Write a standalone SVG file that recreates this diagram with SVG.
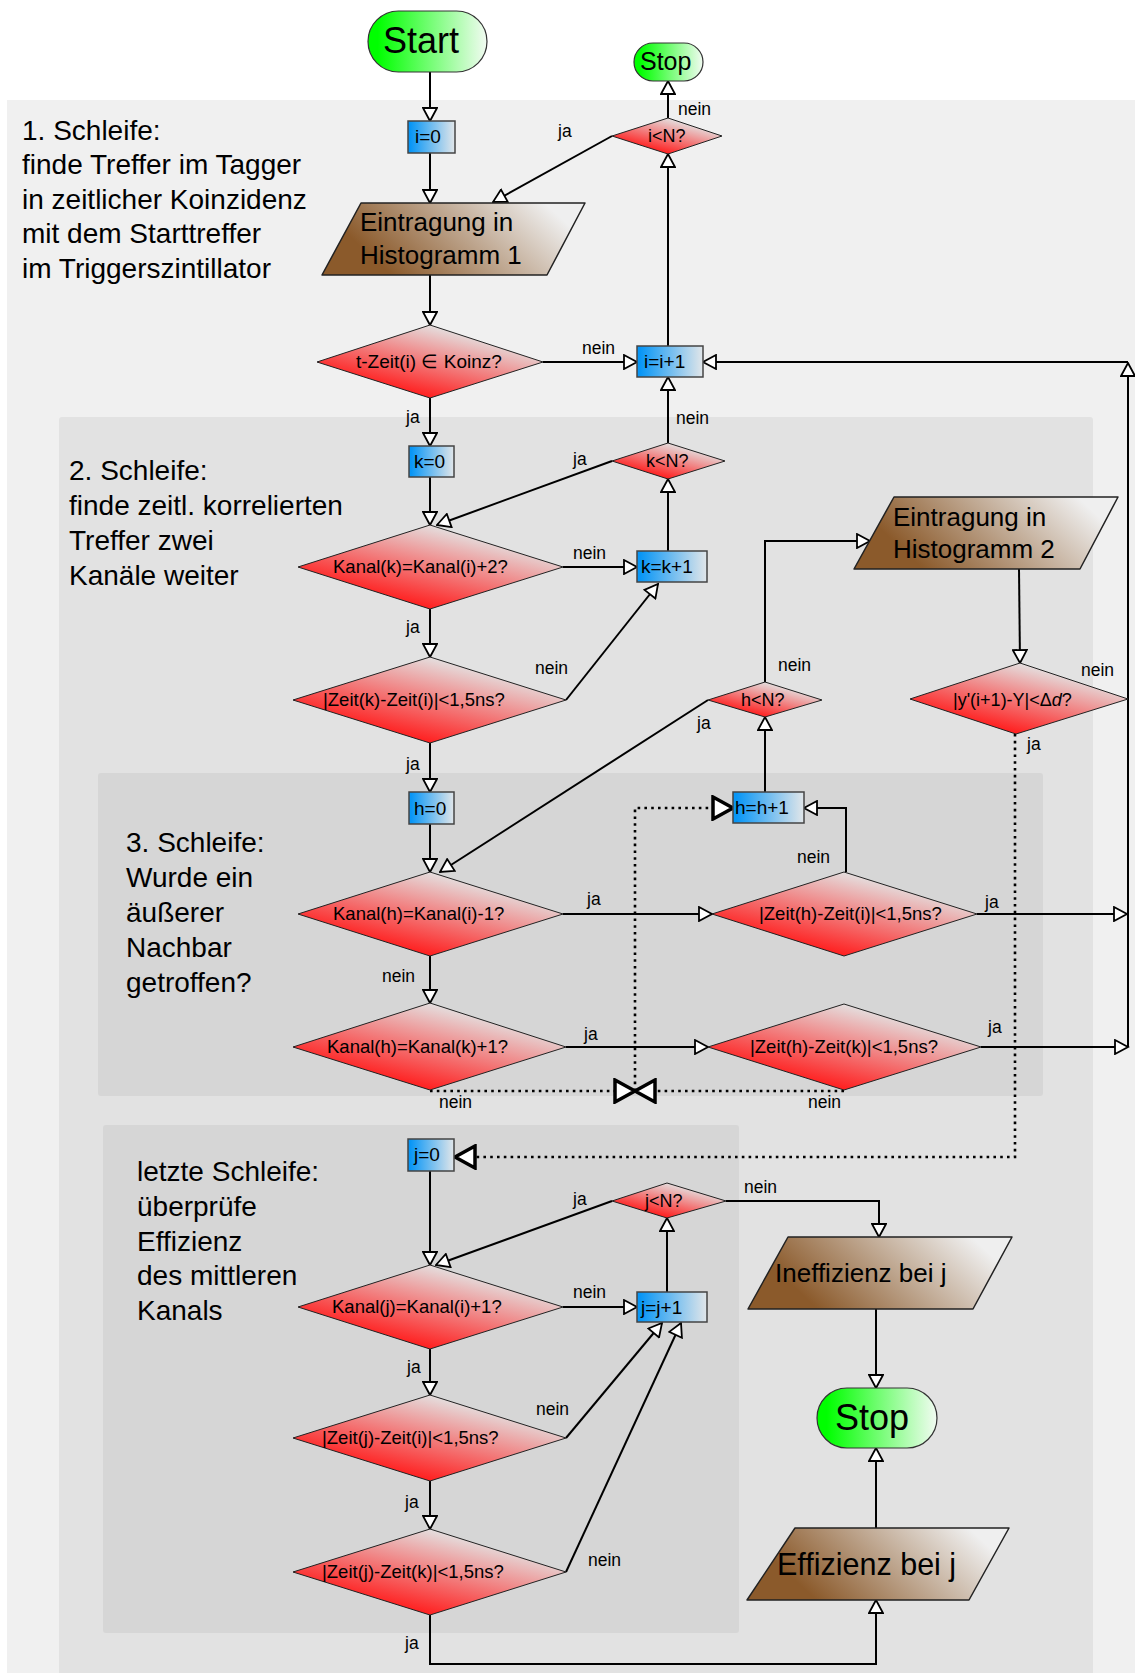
<svg xmlns="http://www.w3.org/2000/svg" width="1135" height="1673" viewBox="0 0 1135 1673">
<defs>
<linearGradient id="gG" x1="0" y1="0" x2="1" y2="0"><stop offset="0.08" stop-color="#00ff00"/><stop offset="1" stop-color="#f2fbf2"/></linearGradient>
<linearGradient id="gB" x1="0" y1="0" x2="1" y2="0"><stop offset="0.05" stop-color="#0896f6"/><stop offset="1" stop-color="#e2e6e9"/></linearGradient>
<linearGradient id="gR" x1="0.2" y1="0.9" x2="0.8" y2="0.1"><stop offset="0.1" stop-color="#ff1f1f"/><stop offset="0.9" stop-color="#e4dede"/></linearGradient>
<linearGradient id="gM" x1="0.1" y1="0.6" x2="0.95" y2="0.35"><stop offset="0.05" stop-color="#8b5a2b"/><stop offset="1" stop-color="#efefef"/></linearGradient>
<marker id="ar" viewBox="0 0 16 16" refX="14.5" refY="8" markerWidth="16" markerHeight="16" markerUnits="userSpaceOnUse" orient="auto"><path d="M1.5,1 L14.5,8 L1.5,15 Z" fill="#fff" stroke="#000" stroke-width="1.8"/></marker>
<marker id="big" viewBox="0 0 26 26" refX="22" refY="13" markerWidth="26" markerHeight="26" markerUnits="userSpaceOnUse" orient="auto"><path d="M2,2 L22,13 L2,24 Z" fill="#fff" stroke="#000" stroke-width="3.5"/></marker>
</defs>
<style>
text{font-family:"Liberation Sans",Arial,sans-serif;fill:#000}
.term{fill:url(#gG);stroke:#333;stroke-width:1.2}
.box{fill:url(#gB);stroke:#444;stroke-width:1.5}
.dia{fill:url(#gR);stroke:#222;stroke-width:1}
.io{fill:url(#gM);stroke:#222;stroke-width:1.5;stroke-linejoin:round}
.bt{font-size:19px}
.dt{font-size:18.5px}
.st{font-size:18px}
.io-t{font-size:26px}
.lab{font-size:17.5px}
.sec{font-size:28px}
.c{fill:none;stroke:#000;stroke-width:2;marker-end:url(#ar)}
.d{fill:none;stroke:#000;stroke-width:2.6;stroke-dasharray:2.6 4.2;marker-end:url(#big)}
</style>
<rect width="1135" height="1673" fill="#fff"/>
<g id="panels">
<rect x="7" y="100" width="1140" height="1600" fill="#f0f0f0"/>
<rect x="59" y="417" width="1034" height="1300" rx="3" fill="#e2e2e2"/>
<rect x="98" y="773" width="945" height="323" rx="3" fill="#d6d6d6"/>
<rect x="103" y="1125" width="636" height="508" rx="3" fill="#d6d6d6"/>
</g>
<g id="sections">
<text class="sec" x="22" y="139.5">1. Schleife:</text>
<text class="sec" x="22" y="174">finde Treffer im Tagger</text>
<text class="sec" x="22" y="208.5">in zeitlicher Koinzidenz</text>
<text class="sec" x="22" y="243">mit dem Starttreffer</text>
<text class="sec" x="22" y="277.5">im Triggerszintillator</text>
<text class="sec" x="69" y="480">2. Schleife:</text>
<text class="sec" x="69" y="515">finde zeitl. korrelierten</text>
<text class="sec" x="69" y="550">Treffer zwei</text>
<text class="sec" x="69" y="585">Kanäle weiter</text>
<text class="sec" x="126" y="852">3. Schleife:</text>
<text class="sec" x="126" y="887">Wurde ein</text>
<text class="sec" x="126" y="922">äußerer</text>
<text class="sec" x="126" y="957">Nachbar</text>
<text class="sec" x="126" y="992">getroffen?</text>
<text class="sec" x="137" y="1181">letzte Schleife:</text>
<text class="sec" x="137" y="1216">überprüfe</text>
<text class="sec" x="137" y="1250.5">Effizienz</text>
<text class="sec" x="137" y="1285">des mittleren</text>
<text class="sec" x="137" y="1320">Kanals</text>
</g>
<g id="connectors">
<path class="c" d="M430,72 V121"/>
<path class="c" d="M430,153 V203"/>
<path class="c" d="M430,275 V325"/>
<path class="c" d="M543,362 H637"/>
<path class="c" d="M668,346 V154"/>
<path class="c" d="M668,118 V81"/>
<path class="c" d="M612,136 L493,202"/>
<path class="c" d="M430,398 V446"/>
<path class="c" d="M430,477 V525"/>
<path class="c" d="M612,461 L437,525"/>
<path class="c" d="M668,443 V377"/>
<path class="c" d="M563,567 H637"/>
<path class="c" d="M668,551 V479"/>
<path class="c" d="M430,609 V657"/>
<path class="c" d="M566,700 L658,584"/>
<path class="c" d="M430,743 V792"/>
<path class="c" d="M430,824 V872"/>
<path class="c" d="M708,700 L440,872"/>
<path class="c" d="M765,792 V717"/>
<path class="c" d="M765,682 V541 H870"/>
<path class="c" d="M1019,569 L1020,663"/>
<path class="c" d="M1128,1047 V363"/>
<path class="c" d="M1128,362 H703"/>
<path class="c" d="M563,914 H712"/>
<path class="c" d="M977,914 H1127"/>
<path class="c" d="M846,872 V808 H804"/>
<path class="c" d="M430,956 V1003"/>
<path class="c" d="M566,1047 H708"/>
<path class="c" d="M981,1047 H1128"/>
<path class="d" d="M430,1091 H635"/>
<path class="d" d="M844,1091 H635"/>
<path class="d" d="M635,1091 V808 H733"/>
<path class="d" d="M1015,734 V1157 H455"/>
<path class="c" d="M430,1171 V1265"/>
<path class="c" d="M612,1201 L436,1265"/>
<path class="c" d="M563,1307 H637"/>
<path class="c" d="M667,1292 V1218"/>
<path class="c" d="M726,1201 H879 V1237"/>
<path class="c" d="M876,1309 V1388"/>
<path class="c" d="M430,1349 V1395"/>
<path class="c" d="M566,1438 L662,1323"/>
<path class="c" d="M430,1481 V1529"/>
<path class="c" d="M566,1572 L681,1323"/>
<path class="c" d="M430,1615 V1664 H876 V1600"/>
<path class="c" d="M876,1528 V1448"/>
</g>
<g id="labels">
<text class="lab" x="678" y="115">nein</text>
<text class="lab" x="558" y="137">ja</text>
<text class="lab" x="582" y="354">nein</text>
<text class="lab" x="406" y="423">ja</text>
<text class="lab" x="676" y="424">nein</text>
<text class="lab" x="573" y="465">ja</text>
<text class="lab" x="573" y="559">nein</text>
<text class="lab" x="406" y="633">ja</text>
<text class="lab" x="535" y="674">nein</text>
<text class="lab" x="406" y="770">ja</text>
<text class="lab" x="778" y="671">nein</text>
<text class="lab" x="697" y="729">ja</text>
<text class="lab" x="1081" y="676">nein</text>
<text class="lab" x="1027" y="750">ja</text>
<text class="lab" x="587" y="905">ja</text>
<text class="lab" x="797" y="863">nein</text>
<text class="lab" x="985" y="908">ja</text>
<text class="lab" x="382" y="982">nein</text>
<text class="lab" x="584" y="1040">ja</text>
<text class="lab" x="988" y="1033">ja</text>
<text class="lab" x="439" y="1108">nein</text>
<text class="lab" x="808" y="1108">nein</text>
<text class="lab" x="573" y="1205">ja</text>
<text class="lab" x="744" y="1193">nein</text>
<text class="lab" x="573" y="1298">nein</text>
<text class="lab" x="407" y="1373">ja</text>
<text class="lab" x="536" y="1415">nein</text>
<text class="lab" x="405" y="1508">ja</text>
<text class="lab" x="588" y="1566">nein</text>
<text class="lab" x="405" y="1649">ja</text>
</g>
<g id="start"><rect class="term" x="368" y="11" width="119" height="61" rx="30.5"/><text x="383" y="53" font-size="36">Start</text></g>
<g id="stop1"><rect class="term" x="634" y="43" width="69" height="38" rx="19"/><text x="640" y="70" font-size="25">Stop</text></g>
<g id="i0"><rect class="box" x="408" y="121" width="47" height="32"/><text class="bt" x="415" y="143">i=0</text></g>
<g id="hist1"><polygon class="io" points="361,203 585,203 547,275 322,275"/><text class="io-t" x="360" y="231">Eintragung in</text><text class="io-t" x="360" y="264">Histogramm 1</text></g>
<g id="iN"><polygon class="dia" points="612,136 668,118 722,136 668,154"/><text class="st" x="648" y="142">i&lt;N?</text></g>
<g id="tzeit"><polygon class="dia" points="317,362 430,325 543,362 430,398"/><text x="356" y="368" font-size="19">t-Zeit(i) ∈ Koinz?</text></g>
<g id="ii1"><rect class="box" x="637" y="346" width="66" height="31"/><text class="bt" x="644" y="368">i=i+1</text></g>
<g id="k0"><rect class="box" x="409" y="446" width="45" height="31"/><text class="bt" x="414" y="468">k=0</text></g>
<g id="kN"><polygon class="dia" points="612,461 668,443 725,461 668,479"/><text class="st" x="646" y="467">k&lt;N?</text></g>
<g id="kanalk"><polygon class="dia" points="298,567 430,525 563,567 430,609"/><text class="dt" x="333" y="573">Kanal(k)=Kanal(i)+2?</text></g>
<g id="kk1"><rect class="box" x="637" y="551" width="70" height="31"/><text class="bt" x="641" y="573">k=k+1</text></g>
<g id="zeitki"><polygon class="dia" points="293,700 430,657 566,700 430,743"/><text class="dt" x="323" y="706">|Zeit(k)-Zeit(i)|&lt;1,5ns?</text></g>
<g id="h0"><rect class="box" x="409" y="792" width="45" height="32"/><text class="bt" x="414" y="815">h=0</text></g>
<g id="hN"><polygon class="dia" points="708,700 765,682 822,700 765,717"/><text class="st" x="741" y="706">h&lt;N?</text></g>
<g id="hist2"><polygon class="io" points="894,497 1118,497 1080,569 854,569"/><text class="io-t" x="893" y="526">Eintragung in</text><text class="io-t" x="893" y="558">Histogramm 2</text></g>
<g id="yd"><polygon class="dia" points="910,699 1020,663 1128,699 1016,734"/><text class="st" x="953" y="706">|y'(i+1)-Y|&lt;Δ<tspan font-style="italic">d</tspan>?</text></g>
<g id="hh1"><rect class="box" x="733" y="792" width="71" height="31"/><text class="bt" x="735" y="814">h=h+1</text></g>
<g id="kanalh1"><polygon class="dia" points="298,914 430,872 563,914 430,956"/><text class="dt" x="333" y="920">Kanal(h)=Kanal(i)-1?</text></g>
<g id="zeithi"><polygon class="dia" points="712,914 844,872 977,914 844,956"/><text class="dt" x="759" y="920">|Zeit(h)-Zeit(i)|&lt;1,5ns?</text></g>
<g id="kanalh2"><polygon class="dia" points="293,1047 430,1003 566,1047 430,1090"/><text class="dt" x="327" y="1053">Kanal(h)=Kanal(k)+1?</text></g>
<g id="zeithk"><polygon class="dia" points="708,1047 844,1004 981,1047 844,1090"/><text class="dt" x="750" y="1053">|Zeit(h)-Zeit(k)|&lt;1,5ns?</text></g>
<g id="j0"><rect class="box" x="408" y="1139" width="46" height="32"/><text class="bt" x="414" y="1161">j=0</text></g>
<g id="jN"><polygon class="dia" points="612,1201 667,1183 726,1201 667,1218"/><text class="st" x="645" y="1207">j&lt;N?</text></g>
<g id="kanalj"><polygon class="dia" points="298,1307 430,1265 563,1307 430,1349"/><text class="dt" x="332" y="1313">Kanal(j)=Kanal(i)+1?</text></g>
<g id="jj1"><rect class="box" x="637" y="1292" width="70" height="30"/><text class="bt" x="641" y="1314">j=j+1</text></g>
<g id="zeitji"><polygon class="dia" points="293,1438 430,1395 566,1438 430,1481"/><text class="dt" x="322" y="1444">|Zeit(j)-Zeit(i)|&lt;1,5ns?</text></g>
<g id="zeitjk"><polygon class="dia" points="293,1572 430,1529 566,1572 430,1615"/><text class="dt" x="322" y="1578">|Zeit(j)-Zeit(k)|&lt;1,5ns?</text></g>
<g id="ineff"><polygon class="io" points="788,1237 1012,1237 973,1309 748,1309"/><text x="775" y="1282" font-size="26">Ineffizienz bei j</text></g>
<g id="stop2"><rect class="term" x="817" y="1388" width="120" height="60" rx="30"/><text x="835" y="1430" font-size="36">Stop</text></g>
<g id="eff"><polygon class="io" points="795,1528 1009,1528 969,1600 747,1600"/><text x="777" y="1575" font-size="30.5">Effizienz bei j</text></g>
</svg>
